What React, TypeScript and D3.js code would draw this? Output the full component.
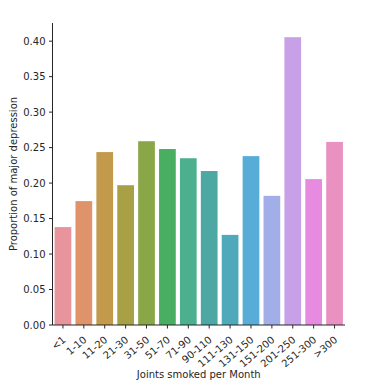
import React from "react";
import * as d3 from "d3";

const categories = ["<1", "1-10", "11-20", "21-30", "31-50", "51-70", "71-90", "90-110", "111-130", "131-150", "151-200", "201-250", "251-300", ">300"];
const values = [0.138, 0.1746, 0.2437, 0.197, 0.259, 0.248, 0.235, 0.217, 0.127, 0.238, 0.182, 0.4056, 0.2056, 0.258];
const colors = ["#e8949d", "#e0926b", "#c39a4b", "#a7a045", "#8aa748", "#4aae62", "#4caf8e", "#4da8a3", "#4eaabb", "#57acd8", "#a1aee8", "#c7a0e8", "#e78be0", "#e991c0"];
const yTicks = [0, 0.05, 0.1, 0.15, 0.2, 0.25, 0.3, 0.35, 0.4];

const W = 388, H = 387;
const left = 52.5, right = 345, top = 23, bottom = 325;
const ink = "#262626";
const font = "DejaVu Sans, sans-serif";

export default function App() {
  const x = d3.scaleLinear().domain([-0.5, categories.length - 0.5]).range([left, right]);
  const y = d3.scaleLinear().domain([0, 0.4256]).range([bottom, top]);
  const bw = x(0.4) - x(-0.4);
  return (
    <svg width={W} height={H} style={{ position: "absolute", left: 0, top: 0 }} fontFamily={font}>
      <rect width={W} height={H} fill="#fff" />
      {values.map((v, i) => (
        <rect key={i} x={x(i - 0.4)} y={y(v)} width={bw} height={y(0) - y(v)} fill={colors[i]} />
      ))}
      <line x1={left} x2={left} y1={top} y2={bottom} stroke={ink} strokeWidth={1} />
      <line x1={left} x2={right} y1={bottom} y2={bottom} stroke={ink} strokeWidth={1} />
      {yTicks.map((t) => (
        <g key={t}>
          <line x1={left - 3.5} x2={left} y1={y(t)} y2={y(t)} stroke={ink} />
          <text x={left - 7} y={y(t)} dy="0.35em" textAnchor="end" fontSize={10} fill={ink}>{t.toFixed(2)}</text>
        </g>
      ))}
      {categories.map((c, i) => (
        <g key={c}>
          <line x1={x(i)} x2={x(i)} y1={bottom} y2={bottom + 3.5} stroke={ink} />
          <text transform={`translate(${x(i) - 1},${bottom + 10.5}) rotate(-40)`} textAnchor="end" fontSize={10} fill={ink} dy="0.7em">{c}</text>
        </g>
      ))}
      <text x={(left + right) / 2} y={378} textAnchor="middle" fontSize={10} fill={ink}>Joints smoked per Month</text>
      <text transform={`translate(17,${(top + bottom) / 2}) rotate(-90)`} textAnchor="middle" fontSize={10} fill={ink}>Proportion of major depression</text>
    </svg>
  );
}
